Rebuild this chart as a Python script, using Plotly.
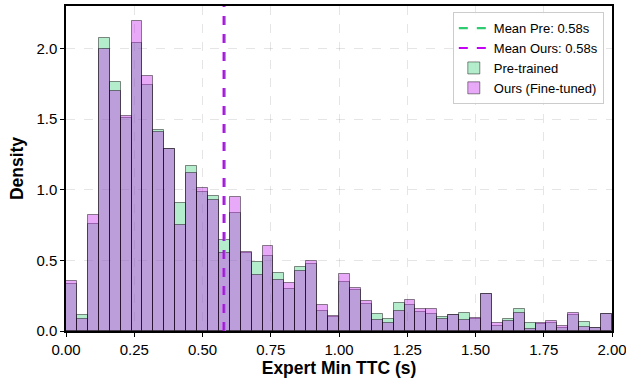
import numpy as np
import plotly.graph_objects as go

# bin edges: 0 to 2 with 50 bins
bin_edges = [round(i * 0.04, 2) for i in range(51)]

pre_density = [
    0.333, 0.113, 0.757, 2.076, 1.764, 1.510, 2.035, 1.738, 1.426, 1.291,
    0.906, 1.168, 0.984, 0.955, 0.643, 0.832, 0.550, 0.487, 0.530, 0.414,
    0.300, 0.456, 0.477, 0.142, 0.100, 0.345, 0.290, 0.191, 0.121, 0.085,
    0.196, 0.184, 0.132, 0.121, 0.097, 0.110, 0.128, 0.085, 0.262, 0.035,
    0.083, 0.154, 0.055, 0.050, 0.060, 0.020, 0.110, 0.066, 0.019, 0.118,
]
ours_density = [
    0.357, 0.083, 0.823, 1.998, 1.702, 1.520, 2.194, 1.806, 1.409, 1.285,
    0.750, 1.121, 1.009, 0.927, 0.555, 0.946, 0.558, 0.395, 0.600, 0.360,
    0.338, 0.426, 0.494, 0.182, 0.105, 0.402, 0.303, 0.215, 0.080, 0.059,
    0.142, 0.220, 0.156, 0.156, 0.083, 0.113, 0.078, 0.090, 0.262, 0.054,
    0.071, 0.125, 0.012, 0.057, 0.068, 0.033, 0.125, 0.026, 0.019, 0.118,
]
mean_pre = 0.5815
mean_ours = 0.5775

x_ticks = [0.0, 0.25, 0.5, 0.75, 1.0, 1.25, 1.5, 1.75, 2.0]
x_ticklabels = ["0.00", "0.25", "0.50", "0.75", "1.00", "1.25", "1.50", "1.75", "2.00"]
y_ticks = [0.0, 0.5, 1.0, 1.5, 2.0]
y_ticklabels = ["0.0", "0.5", "1.0", "1.5", "2.0"]

edges = np.array(bin_edges)
centers = (edges[:-1] + edges[1:]) / 2
widths = np.diff(edges)

ymax = 2.30

fig = go.Figure()
fig.add_trace(go.Bar(
    x=centers, y=pre_density, width=widths, name="Pre-trained",
    marker=dict(color="rgba(46,204,113,0.36)", line=dict(color="rgba(0,0,0,0.45)", width=1)),
    legendrank=3,
))
fig.add_trace(go.Bar(
    x=centers, y=ours_density, width=widths, name="Ours (Fine-tuned)",
    marker=dict(color="rgba(200,40,240,0.40)", line=dict(color="rgba(0,0,0,0.45)", width=1)),
    legendrank=4,
))
fig.add_trace(go.Scatter(
    x=[mean_pre, mean_pre], y=[0, ymax], mode="lines", name=f"Mean Pre: {0.58:.2f}s",
    line=dict(color="#2ecc71", width=2.2, dash="dash"), legendrank=1, cliponaxis=True,
))
fig.add_trace(go.Scatter(
    x=[mean_ours, mean_ours], y=[0, ymax], mode="lines", name=f"Mean Ours: {0.58:.2f}s",
    line=dict(color="#c400f5", width=2.2, dash="dash"), legendrank=2, cliponaxis=True,
))

axis_common = dict(
    showline=True, linecolor="black", linewidth=1.5, mirror=True,
    ticks="outside", ticklen=4, tickwidth=1.2, tickcolor="black",
    showgrid=True, gridcolor="rgba(0,0,0,0.10)", griddash="dash", gridwidth=0.8,
    zeroline=False, automargin=False, ticklabeloverflow="allow",
    tickfont=dict(size=15, color="black", family="Liberation Sans, Arial, sans-serif"),
)

fig.update_layout(
    width=626, height=381,
    margin=dict(l=66, r=14, t=6, b=50, autoexpand=False),
    paper_bgcolor="white", plot_bgcolor="white",
    barmode="overlay", bargap=0,
    font=dict(family="Liberation Sans, Arial, sans-serif", color="black"),
    xaxis=dict(range=[0, 2], tickvals=x_ticks, ticktext=x_ticklabels,
               title=dict(text="<b>Expert Min TTC (s)</b>", font=dict(size=17.5), standoff=2),
               **axis_common),
    yaxis=dict(range=[0, ymax], tickvals=y_ticks, ticktext=y_ticklabels,
               title=dict(text="<b>Density</b>", font=dict(size=17.5), standoff=8),
               **axis_common),
    legend=dict(x=0.985, y=0.981, xanchor="right", yanchor="top",
                bgcolor="rgba(255,255,255,0.85)", bordercolor="#cccccc", borderwidth=1,
                font=dict(size=13), tracegroupgap=0, itemwidth=30),
    showlegend=True,
)

fig.write_html("out.html", config={"displayModeBar": False},
               post_script="document.body.style.margin='0px';")
